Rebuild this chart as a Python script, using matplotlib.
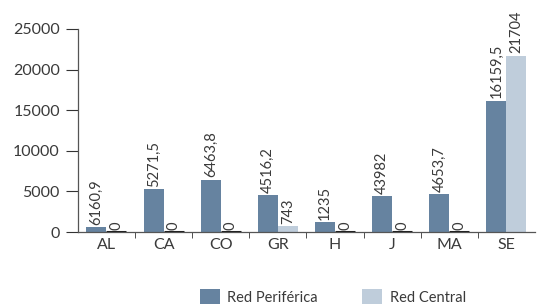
import matplotlib
matplotlib.use("Agg")
import matplotlib.pyplot as plt
import numpy as np

categories = ["AL", "CA", "CO", "GR", "H", "J", "MA", "SE"]
periferica = [616.09, 5271.5, 6463.8, 4516.2, 1235, 4398.2, 4653.7, 16159.5]
central = [0, 0, 0, 743, 0, 0, 0, 21704]
periferica_labels = ["6160,9", "5271,5", "6463,8", "4516,2", "1235", "43982", "4653,7", "16159,5"]
central_labels = ["0", "0", "0", "743", "0", "0", "0", "21704"]

plt.rcParams['font.family'] = ['Lato', 'DejaVu Sans']
txt = "#3a3a3a"
c1 = "#6683a0"
c2 = "#bfcddb"

fig = plt.figure(figsize=(5.41, 3.07), dpi=100)
ax = fig.add_axes([0.144, 0.244, 0.845, 0.662])

x = np.arange(len(categories))
w = 0.35
b1 = ax.bar(x - w/2, periferica, w, color=c1, label="Red Periférica")
b2 = ax.bar(x + w/2, central, w, color=c2, label="Red Central")
for xi, v in zip(x, central):
    if v == 0:
        ax.plot([xi, xi + w], [0, 0], color="#222222", lw=2.2, solid_capstyle="butt", zorder=4)

for xi, v, s in zip(x - w/2, periferica, periferica_labels):
    ax.text(xi, v + 300, s, rotation=90, ha="center", va="bottom", fontsize=10.5, color=txt)
for xi, v, s in zip(x + w/2, central, central_labels):
    ax.text(xi, v + 300, s, rotation=90, ha="center", va="bottom", fontsize=10.5, color=txt)

ax.set_xlim(-0.5, len(categories) - 0.5)
ax.set_ylim(0, 25000)
ax.set_yticks([0, 5000, 10000, 15000, 20000, 25000])
ax.set_xticks(x)
ax.set_xticklabels(categories)
ax.set_xticks(np.arange(len(categories) - 1) + 0.5, minor=True)
ax.tick_params(axis="x", which="major", length=0, labelsize=11.5, labelcolor=txt, pad=4)
ax.tick_params(axis="x", which="minor", length=4, color="#333333", direction="out")
ax.tick_params(axis="y", length=9, labelsize=11.5, labelcolor=txt, color="#333333", pad=4)
for s in ["top", "right"]:
    ax.spines[s].set_visible(False)
for s in ["left", "bottom"]:
    ax.spines[s].set_color("#555555")
    ax.spines[s].set_linewidth(0.9)

fig.legend(handles=[b1, b2], loc="lower center", bbox_to_anchor=(0.615, -0.035), ncol=2,
           frameon=False, fontsize=10.5, handlelength=1.4, handleheight=1.2,
           columnspacing=3.0, handletextpad=0.5, labelcolor=txt)

fig.savefig("out.png", dpi=100)
